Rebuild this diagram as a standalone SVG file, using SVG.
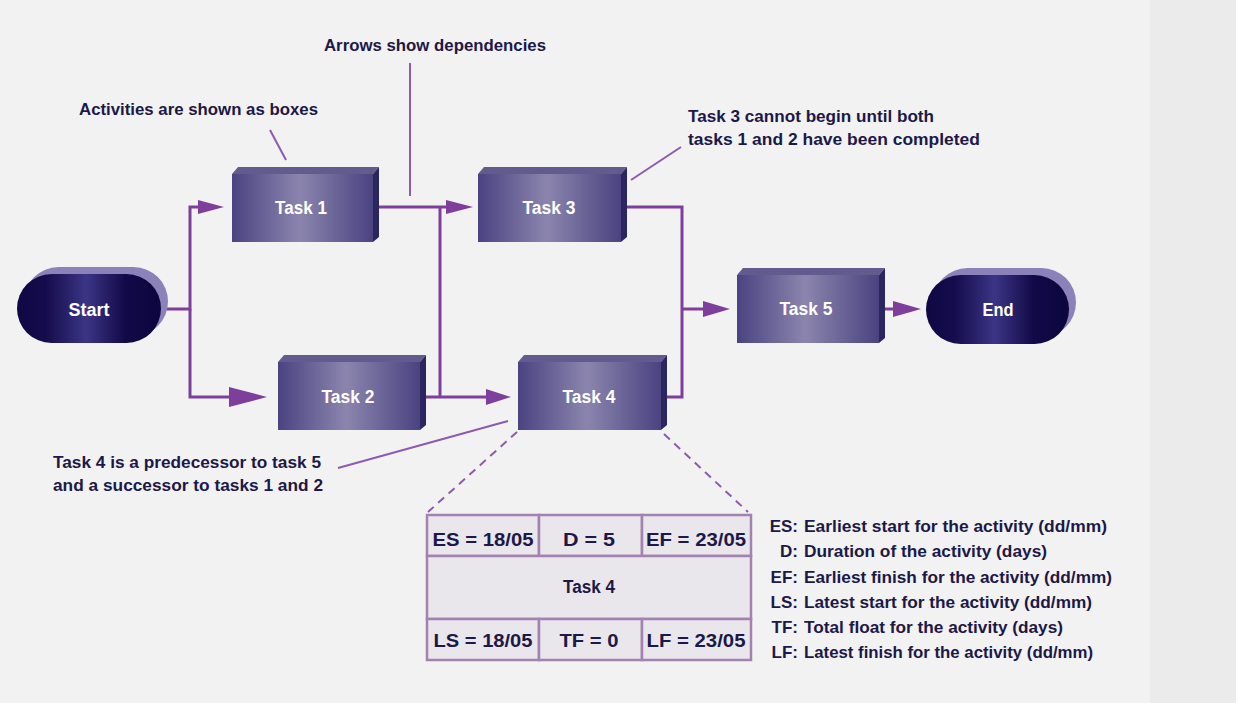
<svg xmlns="http://www.w3.org/2000/svg" width="1238" height="703" viewBox="0 0 1238 703">
<style>
.lbl{font-family:"Liberation Sans",Arial,sans-serif;font-weight:bold;fill:#1c1848;font-size:17px}
.task{font-family:"Liberation Sans",Arial,sans-serif;font-weight:bold;fill:#ffffff;font-size:18px;text-anchor:middle}
.cell{font-family:"Liberation Sans",Arial,sans-serif;font-weight:bold;fill:#1c1848;font-size:18px;text-anchor:middle}
.key{font-family:"Liberation Sans",Arial,sans-serif;font-weight:bold;fill:#1c1848;font-size:17px;text-anchor:end}
.conn{fill:none;stroke:#7d3f9b;stroke-width:3}
.head{fill:#7d3f9b}
.lead{fill:none;stroke:#8c5bb0;stroke-width:2}
.dash{fill:none;stroke:#8c5bb0;stroke-width:2;stroke-dasharray:8 6}
.front{fill:url(#boxGrad)}
.top{fill:#625c8e}
.side{fill:#2b2560}
.pillShadow{fill:#8b82ba}
.pill{fill:url(#pillGrad)}
.tcell{fill:#e9e6ec;stroke:#a283b0;stroke-width:2.5}
</style>
<defs>
<linearGradient id="boxGrad" x1="0" y1="0" x2="1" y2="0">
<stop offset="0" stop-color="#4a4381"/>
<stop offset="0.48" stop-color="#8b85ae"/>
<stop offset="1" stop-color="#4a4380"/>
</linearGradient>
<linearGradient id="pillGrad" x1="0" y1="0" x2="1" y2="0">
<stop offset="0" stop-color="#0f0844"/>
<stop offset="0.2" stop-color="#140c4c"/>
<stop offset="0.48" stop-color="#3b3585"/>
<stop offset="0.75" stop-color="#120a48"/>
<stop offset="1" stop-color="#0b063e"/>
</linearGradient>
</defs>
<rect x="0" y="0" width="1238" height="703" fill="#f2f2f2"/>
<rect x="1150" y="0" width="86" height="703" fill="#ebebeb"/>
<rect x="1236" y="0" width="2" height="703" fill="#ffffff"/>

<g id="annotations">
<line class="lead" x1="410" y1="63" x2="410" y2="196"/>
<line class="lead" x1="270" y1="130" x2="286" y2="160"/>
<line class="lead" x1="631" y1="180" x2="681" y2="147"/>
<line class="lead" x1="338" y1="468" x2="508" y2="421"/>
<line class="dash" x1="517" y1="432" x2="428" y2="512"/>
<line class="dash" x1="664" y1="434" x2="748" y2="512"/>
<text class="lbl" x="324" y="51" textLength="222" lengthAdjust="spacingAndGlyphs">Arrows show dependencies</text>
<text class="lbl" x="79" y="115" textLength="239" lengthAdjust="spacingAndGlyphs">Activities are shown as boxes</text>
<text class="lbl" x="688" y="122" textLength="246" lengthAdjust="spacingAndGlyphs">Task 3 cannot begin until both</text>
<text class="lbl" x="688" y="145" textLength="292" lengthAdjust="spacingAndGlyphs">tasks 1 and 2 have been completed</text>
<text class="lbl" x="53" y="468" textLength="268" lengthAdjust="spacingAndGlyphs">Task 4 is a predecessor to task 5</text>
<text class="lbl" x="53" y="491" textLength="270" lengthAdjust="spacingAndGlyphs">and a successor to tasks 1 and 2</text>
</g>

<g id="connectors">
<path class="conn" d="M162,309 H190 V207 H200"/>
<polygon class="head" points="198,200 224,207 198,214"/>
<path class="conn" d="M190,309 V397 H232"/>
<polygon class="head" points="229,387 267,397 229,407"/>
<path class="conn" d="M379,207 H449"/>
<polygon class="head" points="446,200 473,207 446,214"/>
<path class="conn" d="M426,397 H489"/>
<polygon class="head" points="486,389 511,397 486,405"/>
<path class="conn" d="M440,207 V397"/>
<path class="conn" d="M627,207 H682 V397 H667"/>
<path class="conn" d="M682,309 H706"/>
<polygon class="head" points="703,301 730,309 703,317"/>
<path class="conn" d="M885,309 H896"/>
<polygon class="head" points="893,301 921,309 893,317"/>
</g>

<g id="start">
<rect class="pillShadow" x="24" y="267" width="144" height="69" rx="34.5"/>
<rect class="pill" x="17" y="274" width="144" height="69" rx="34.5"/>
<text class="task" x="89" y="316" textLength="41" lengthAdjust="spacingAndGlyphs">Start</text>
</g>

<g id="task1">
<polygon class="top" points="232,174 238,167 379,167 373,174"/>
<polygon class="side" points="373,174 379,167 379,237 373,242"/>
<rect class="front" x="232" y="174" width="141" height="68"/>
<text class="task" x="301" y="214" textLength="52" lengthAdjust="spacingAndGlyphs">Task 1</text>
</g>

<g id="task2">
<polygon class="top" points="278,362 284,355 426,355 420,362"/>
<polygon class="side" points="420,362 426,355 426,425 420,430"/>
<rect class="front" x="278" y="362" width="142" height="68"/>
<text class="task" x="348" y="403" textLength="53" lengthAdjust="spacingAndGlyphs">Task 2</text>
</g>

<g id="task3">
<polygon class="top" points="478,174 484,167 627,167 621,174"/>
<polygon class="side" points="621,174 627,167 627,237 621,242"/>
<rect class="front" x="478" y="174" width="143" height="68"/>
<text class="task" x="549" y="214" textLength="53" lengthAdjust="spacingAndGlyphs">Task 3</text>
</g>

<g id="task4">
<polygon class="top" points="518,362 524,355 667,355 661,362"/>
<polygon class="side" points="661,362 667,355 667,425 661,430"/>
<rect class="front" x="518" y="362" width="143" height="68"/>
<text class="task" x="589" y="403" textLength="53" lengthAdjust="spacingAndGlyphs">Task 4</text>
</g>

<g id="task5">
<polygon class="top" points="737,275 743,268 885,268 879,275"/>
<polygon class="side" points="879,275 885,268 885,338 879,343"/>
<rect class="front" x="737" y="275" width="142" height="68"/>
<text class="task" x="806" y="315" textLength="53" lengthAdjust="spacingAndGlyphs">Task 5</text>
</g>

<g id="end">
<rect class="pillShadow" x="933" y="268" width="143" height="69" rx="34.5"/>
<rect class="pill" x="926" y="275" width="143" height="69" rx="34.5"/>
<text class="task" x="998" y="316" textLength="31" lengthAdjust="spacingAndGlyphs">End</text>
</g>

<g id="task4-detail">
<rect class="tcell" x="427" y="515" width="112" height="41"/>
<rect class="tcell" x="539" y="515" width="103" height="41"/>
<rect class="tcell" x="642" y="515" width="109" height="41"/>
<rect class="tcell" x="427" y="556" width="324" height="63"/>
<rect class="tcell" x="427" y="619" width="112" height="41"/>
<rect class="tcell" x="539" y="619" width="103" height="41"/>
<rect class="tcell" x="642" y="619" width="109" height="41"/>
<text class="cell" x="483" y="546" textLength="101" lengthAdjust="spacingAndGlyphs">ES = 18/05</text>
<text class="cell" x="589" y="546" textLength="52" lengthAdjust="spacingAndGlyphs">D = 5</text>
<text class="cell" x="696" y="546" textLength="100" lengthAdjust="spacingAndGlyphs">EF = 23/05</text>
<text class="cell" x="589" y="593" textLength="52" lengthAdjust="spacingAndGlyphs">Task 4</text>
<text class="cell" x="483" y="647" textLength="99" lengthAdjust="spacingAndGlyphs">LS = 18/05</text>
<text class="cell" x="589" y="647" textLength="59" lengthAdjust="spacingAndGlyphs">TF = 0</text>
<text class="cell" x="696" y="647" textLength="99" lengthAdjust="spacingAndGlyphs">LF = 23/05</text>
</g>

<g id="legend">
<text class="key" x="798" y="532">ES:</text>
<text class="lbl" x="804" y="532" textLength="303" lengthAdjust="spacingAndGlyphs">Earliest start for the activity (dd/mm)</text>
<text class="key" x="798" y="557">D:</text>
<text class="lbl" x="804" y="557" textLength="243" lengthAdjust="spacingAndGlyphs">Duration of the activity (days)</text>
<text class="key" x="798" y="583">EF:</text>
<text class="lbl" x="804" y="583" textLength="308" lengthAdjust="spacingAndGlyphs">Earliest finish for the activity (dd/mm)</text>
<text class="key" x="798" y="608">LS:</text>
<text class="lbl" x="804" y="608" textLength="288" lengthAdjust="spacingAndGlyphs">Latest start for the activity (dd/mm)</text>
<text class="key" x="798" y="633">TF:</text>
<text class="lbl" x="804" y="633" textLength="259" lengthAdjust="spacingAndGlyphs">Total float for the activity (days)</text>
<text class="key" x="798" y="658">LF:</text>
<text class="lbl" x="804" y="658" textLength="289" lengthAdjust="spacingAndGlyphs">Latest finish for the activity (dd/mm)</text>
</g>
</svg>
